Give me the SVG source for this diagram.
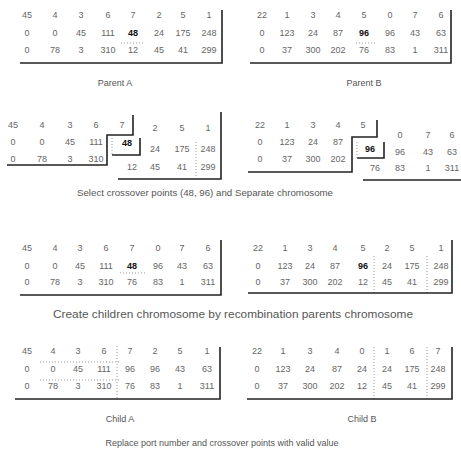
<svg xmlns="http://www.w3.org/2000/svg" width="461" height="453" viewBox="0 0 461 453">
<style>
text{font-family:"Liberation Sans",Arial,sans-serif;font-size:9px;fill:#666;text-anchor:middle}
.b{font-weight:bold;fill:#111}
.cap{fill:#555}
.cap2{fill:#555;font-size:10.5px}
.ln{fill:none;stroke:#222;stroke-width:1.6}
.dt{fill:none;stroke:#999;stroke-width:1;stroke-dasharray:1 2}
</style>
<rect width="461" height="453" fill="#fff"/>

<g id="parentA">
<text x="27" y="18">45</text><text x="55" y="18">4</text><text x="81" y="18">3</text><text x="108" y="18">6</text><text x="133" y="18">7</text><text x="159" y="18">2</text><text x="183" y="18">5</text><text x="209" y="18">1</text>
<text x="27" y="36">0</text><text x="55" y="36">0</text><text x="81" y="36">45</text><text x="108" y="36">111</text><text class="b" x="133" y="36">48</text><text x="159" y="36">24</text><text x="183" y="36">175</text><text x="209" y="36">248</text>
<text x="27" y="53">0</text><text x="55" y="53">78</text><text x="81" y="53">3</text><text x="108" y="53">310</text><text x="133" y="53">12</text><text x="159" y="53">45</text><text x="183" y="53">41</text><text x="209" y="53">299</text>
<path class="dt" d="M121 43H145"/>
<path class="ln" d="M20 63H222V10"/>
<text class="cap" x="115" y="86">Parent A</text>
</g>

<g id="parentB">
<text x="262" y="18">22</text><text x="287" y="18">1</text><text x="313" y="18">3</text><text x="338" y="18">4</text><text x="364" y="18">5</text><text x="390" y="18">0</text><text x="415" y="18">7</text><text x="441" y="18">6</text>
<text x="262" y="36">0</text><text x="287" y="36">123</text><text x="313" y="36">24</text><text x="338" y="36">87</text><text class="b" x="364" y="36">96</text><text x="390" y="36">96</text><text x="415" y="36">43</text><text x="441" y="36">63</text>
<text x="262" y="53">0</text><text x="287" y="53">37</text><text x="313" y="53">300</text><text x="338" y="53">202</text><text x="364" y="53">76</text><text x="390" y="53">83</text><text x="415" y="53">1</text><text x="441" y="53">311</text>
<path class="dt" d="M356 43H377"/>
<path class="ln" d="M250 63H451V10"/>
<text class="cap" x="364" y="86">Parent B</text>
</g>

<g id="separateA">
<text x="13" y="128">45</text><text x="42" y="128">4</text><text x="70" y="128">3</text><text x="96" y="128">6</text><text x="122" y="128">7</text>
<text x="13" y="145">0</text><text x="42" y="145">0</text><text x="70" y="145">45</text><text x="96" y="145">111</text>
<text x="13" y="162">0</text><text x="42" y="162">78</text><text x="70" y="162">3</text><text x="96" y="162">310</text>
<path class="ln" d="M133 115V135H107V165H7"/>
<text class="b" x="127" y="146">48</text>
<path class="ln" d="M112 155H140V138"/>
<path class="dt" d="M112 138V155"/>
<text x="155" y="131">2</text><text x="182" y="131">5</text><text x="208" y="131">1</text>
<text x="155" y="152">24</text><text x="182" y="152">175</text><text x="208" y="152">248</text>
<text x="132" y="170">12</text><text x="155" y="170">45</text><text x="182" y="170">41</text><text x="208" y="170">299</text>
<path class="dt" d="M196 142V176"/>
<path class="ln" d="M118 179H221V112"/>
</g>

<g id="separateB">
<text x="260" y="128">22</text><text x="287" y="128">1</text><text x="313" y="128">3</text><text x="338" y="128">4</text><text x="363" y="128">5</text>
<text x="260" y="145">0</text><text x="287" y="145">123</text><text x="313" y="145">24</text><text x="338" y="145">87</text>
<text x="260" y="162">0</text><text x="287" y="162">37</text><text x="313" y="162">300</text><text x="338" y="162">202</text>
<path class="ln" d="M377 120V137H352V172H248"/>
<text class="b" x="370" y="152">96</text>
<path class="ln" d="M357 158H384V142"/>
<path class="dt" d="M357 142V158"/>
<text x="400" y="138">0</text><text x="428" y="138">7</text><text x="452" y="138">6</text>
<text x="400" y="155">96</text><text x="428" y="155">43</text><text x="452" y="155">63</text>
<text x="375" y="171">76</text><text x="400" y="171">83</text><text x="428" y="171">1</text><text x="452" y="171">311</text>
<path class="ln" d="M363 180H461"/>
</g>
<text class="cap" x="205" y="196" textLength="256" lengthAdjust="spacingAndGlyphs">Select crossover points (48, 96) and Separate chromosome</text>

<g id="childrenA">
<text x="27" y="251">45</text><text x="55" y="251">4</text><text x="80" y="251">3</text><text x="106" y="251">6</text><text x="132" y="251">7</text><text x="158" y="251">0</text><text x="182" y="251">7</text><text x="208" y="251">6</text>
<text x="27" y="269">0</text><text x="55" y="269">0</text><text x="80" y="269">45</text><text x="106" y="269">111</text><text class="b" x="132" y="269">48</text><text x="158" y="269">96</text><text x="182" y="269">43</text><text x="208" y="269">63</text>
<text x="27" y="285">0</text><text x="55" y="285">78</text><text x="80" y="285">3</text><text x="106" y="285">310</text><text x="132" y="285">76</text><text x="158" y="285">83</text><text x="182" y="285">1</text><text x="208" y="285">311</text>
<path class="dt" d="M120 273H145"/>
<path class="ln" d="M20 295H221V240"/>
</g>

<g id="childrenB">
<text x="258" y="251">22</text><text x="285" y="251">1</text><text x="310" y="251">3</text><text x="335" y="251">4</text><text x="363" y="251">5</text><text x="387" y="251">2</text><text x="412" y="251">5</text><text x="441" y="251">1</text>
<text x="258" y="269">0</text><text x="285" y="269">123</text><text x="310" y="269">24</text><text x="335" y="269">87</text><text class="b" x="363" y="269">96</text><text x="387" y="269">24</text><text x="412" y="269">175</text><text x="441" y="269">248</text>
<text x="258" y="285">0</text><text x="285" y="285">37</text><text x="310" y="285">300</text><text x="335" y="285">202</text><text x="363" y="285">12</text><text x="387" y="285">45</text><text x="412" y="285">41</text><text x="441" y="285">299</text>
<path class="dt" d="M374 256V293M427 256V293"/>
<path class="ln" d="M248 293H452V240"/>
</g>
<text class="cap2" x="233" y="318" textLength="360" lengthAdjust="spacingAndGlyphs">Create children chromosome by recombination parents chromosome</text>

<g id="childA">
<text x="27" y="354">45</text><text x="53" y="354">4</text><text x="78" y="354">3</text><text x="104" y="354">6</text><text x="130" y="354">7</text><text x="155" y="354">2</text><text x="180" y="354">5</text><text x="207" y="354">1</text>
<text x="27" y="372">0</text><text x="53" y="372">0</text><text x="78" y="372">45</text><text x="104" y="372">111</text><text x="130" y="372">96</text><text x="155" y="372">96</text><text x="180" y="372">43</text><text x="207" y="372">63</text>
<text x="27" y="389">0</text><text x="53" y="389">78</text><text x="78" y="389">3</text><text x="104" y="389">310</text><text x="130" y="389">76</text><text x="155" y="389">83</text><text x="180" y="389">1</text><text x="207" y="389">311</text>
<path class="dt" d="M117 346V398M40 362H120M40 380H120"/>
<path class="ln" d="M15 399H220V347"/>
<text class="cap" x="120" y="422">Child A</text>
</g>

<g id="childB">
<text x="257" y="354">22</text><text x="283" y="354">1</text><text x="310" y="354">3</text><text x="337" y="354">4</text><text x="362" y="354">0</text><text x="387" y="354">1</text><text x="412" y="354">6</text><text x="438" y="354">7</text>
<text x="257" y="372">0</text><text x="283" y="372">123</text><text x="310" y="372">24</text><text x="337" y="372">87</text><text x="362" y="372">24</text><text x="387" y="372">24</text><text x="412" y="372">175</text><text x="438" y="372">248</text>
<text x="257" y="389">0</text><text x="283" y="389">37</text><text x="310" y="389">300</text><text x="337" y="389">202</text><text x="362" y="389">12</text><text x="387" y="389">45</text><text x="412" y="389">41</text><text x="438" y="389">299</text>
<path class="dt" d="M374 347V399M427 347V399"/>
<path class="ln" d="M247 399H452V347"/>
<text class="cap" x="362" y="422">Child B</text>
</g>

<text class="cap" x="222" y="446">Replace port number and crossover points with valid value</text>
<g id="connectors"/>
</svg>
